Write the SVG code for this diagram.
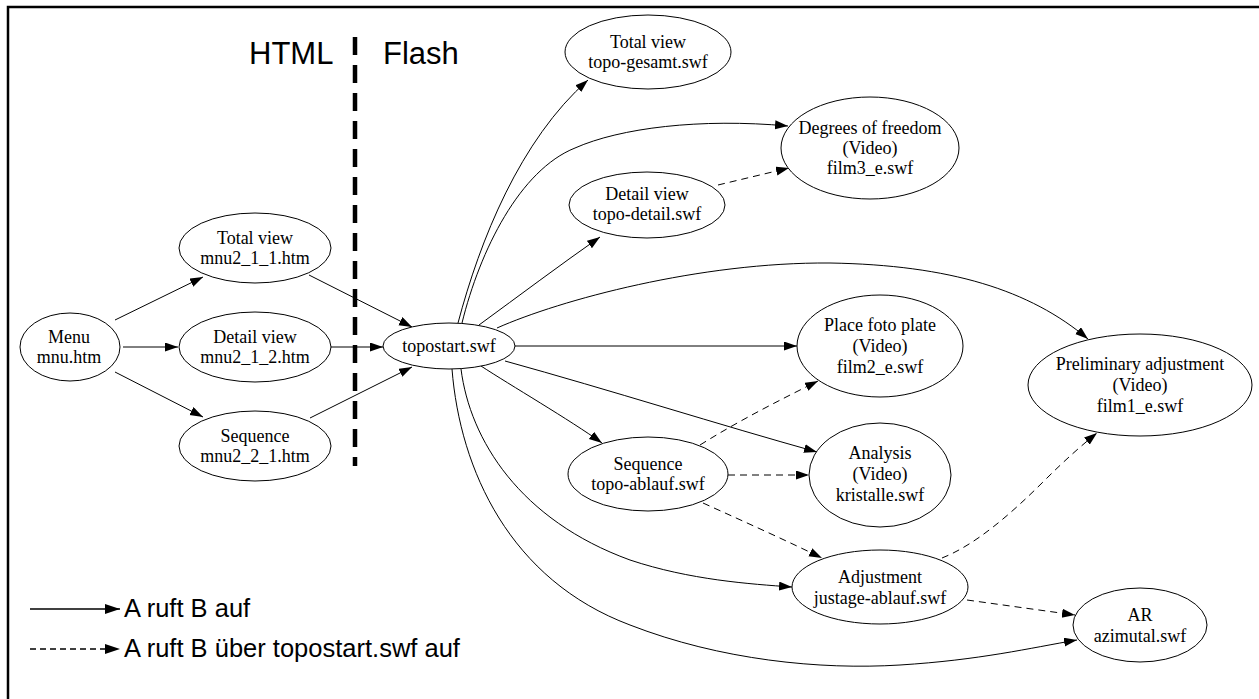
<svg xmlns="http://www.w3.org/2000/svg" width="1259" height="699" viewBox="0 0 1259 699">
<defs>
<marker id="ah" markerUnits="userSpaceOnUse" markerWidth="14" markerHeight="10" refX="13" refY="4.5" orient="auto">
<path d="M0,0 L13,4.5 L0,9 z" fill="#000"/>
</marker>
<marker id="ahl" markerUnits="userSpaceOnUse" markerWidth="16" markerHeight="12" refX="15" refY="5" orient="auto">
<path d="M0,0 L15,5 L0,10 z" fill="#000"/>
</marker>
<style>
.n ellipse{fill:#fff;stroke:#000;stroke-width:1}
.n text{font-family:"Liberation Serif","Times New Roman",serif;font-size:18px;text-anchor:middle;fill:#000}
.e path{fill:none;stroke:#000;stroke-width:1;marker-end:url(#ah)}
.e path.d{stroke-dasharray:7 5}
.lbl{font-family:"Liberation Sans",Arial,sans-serif;fill:#000}
</style>
</defs>
<rect x="0" y="0" width="1259" height="699" fill="#fff"/>
<rect x="8" y="7" width="1270" height="710" fill="none" stroke="#000" stroke-width="2.5"/>
<text class="lbl" x="249" y="64" font-size="31">HTML</text>
<text class="lbl" x="383" y="64" font-size="31">Flash</text>
<line x1="355" y1="37" x2="355" y2="466" stroke="#000" stroke-width="4.5" stroke-dasharray="18 10"/>

<g id="edges" class="e">
<path d="M115,320 L203,277"/>
<path d="M123,347 L178,347"/>
<path d="M115,372 L203,417"/>
<path d="M309,275 L412,327"/>
<path d="M331,347 L383,347"/>
<path d="M310,418 L412,367"/>
<path d="M458,323 C480,240 520,140 588,80"/>
<path d="M462,323 C480,250 520,170 575,148 C620,128 700,118 788,126"/>
<path d="M479,325 C520,295 560,265 600,237"/>
<path d="M497,328 C560,300 700,262 830,263 C950,265 1030,290 1088,339"/>
<path d="M515,346 L797,346"/>
<path d="M505,361 C610,390 720,425 817,452"/>
<path d="M481,366 C510,385 570,420 602,443"/>
<path d="M461,369 C470,440 520,520 630,560 C690,580 750,584 792,587"/>
<path d="M452,369 C460,470 510,580 630,625 C720,660 820,670 900,665 C980,660 1030,648 1077,640"/>
<path class="d" d="M718,185 L789,168"/>
<path class="d" d="M700,445 C740,420 780,400 818,381"/>
<path class="d" d="M728,475 L809,475"/>
<path class="d" d="M703,503 C745,522 785,540 822,558"/>
<path class="d" d="M942,558 C975,545 1010,515 1045,480 C1065,460 1082,445 1097,433"/>
<path class="d" d="M967,600 L1075,615"/>
</g>

<g id="menu" class="n"><ellipse cx="70" cy="347" rx="50" ry="34"/><text x="69" y="343">Menu</text><text x="69" y="363">mnu.htm</text></g>
<g id="tv_html" class="n"><ellipse cx="255" cy="248" rx="76" ry="35"/><text x="255" y="244">Total view</text><text x="255" y="264">mnu2_1_1.htm</text></g>
<g id="dv_html" class="n"><ellipse cx="255" cy="347" rx="76" ry="35"/><text x="255" y="343">Detail view</text><text x="255" y="363">mnu2_1_2.htm</text></g>
<g id="seq_html" class="n"><ellipse cx="255" cy="446" rx="76" ry="35"/><text x="255" y="442">Sequence</text><text x="255" y="462">mnu2_2_1.htm</text></g>
<g id="topostart" class="n"><ellipse cx="449" cy="346" rx="66" ry="23"/><text x="449" y="352">topostart.swf</text></g>
<g id="tv_swf" class="n"><ellipse cx="648" cy="52" rx="83" ry="37"/><text x="648" y="48">Total view</text><text x="648" y="68">topo-gesamt.swf</text></g>
<g id="dof" class="n"><ellipse cx="870" cy="148" rx="89" ry="51"/><text x="870" y="134">Degrees of freedom</text><text x="870" y="154">(Video)</text><text x="870" y="174">film3_e.swf</text></g>
<g id="dv_swf" class="n"><ellipse cx="647" cy="205" rx="78" ry="33"/><text x="647" y="200">Detail view</text><text x="647" y="220">topo-detail.swf</text></g>
<g id="foto" class="n"><ellipse cx="880" cy="346" rx="83" ry="51"/><text x="880" y="331">Place foto plate</text><text x="880" y="352">(Video)</text><text x="880" y="373">film2_e.swf</text></g>
<g id="prelim" class="n"><ellipse cx="1140" cy="385" rx="112" ry="51"/><text x="1140" y="370">Preliminary adjustment</text><text x="1140" y="391">(Video)</text><text x="1140" y="412">film1_e.swf</text></g>
<g id="seq_swf" class="n"><ellipse cx="648" cy="474" rx="80" ry="37"/><text x="648" y="470">Sequence</text><text x="648" y="490">topo-ablauf.swf</text></g>
<g id="analysis" class="n"><ellipse cx="880" cy="475" rx="71" ry="52"/><text x="880" y="459">Analysis</text><text x="880" y="480">(Video)</text><text x="880" y="501">kristalle.swf</text></g>
<g id="adjust" class="n"><ellipse cx="880" cy="587" rx="88" ry="37"/><text x="880" y="583">Adjustment</text><text x="880" y="604">justage-ablauf.swf</text></g>
<g id="ar" class="n"><ellipse cx="1140" cy="625" rx="67" ry="37"/><text x="1140" y="621">AR</text><text x="1140" y="642">azimutal.swf</text></g>

<g id="legend">
<line x1="30" y1="609" x2="120" y2="609" stroke="#000" stroke-width="1.5" marker-end="url(#ahl)"/>
<text class="lbl" x="124" y="617" font-size="25.5">A ruft B auf</text>
<line x1="30" y1="649" x2="120" y2="649" stroke="#000" stroke-width="1.5" stroke-dasharray="6 4" marker-end="url(#ahl)"/>
<text class="lbl" x="124" y="657" font-size="25.5">A ruft B über topostart.swf auf</text>
</g>
</svg>
